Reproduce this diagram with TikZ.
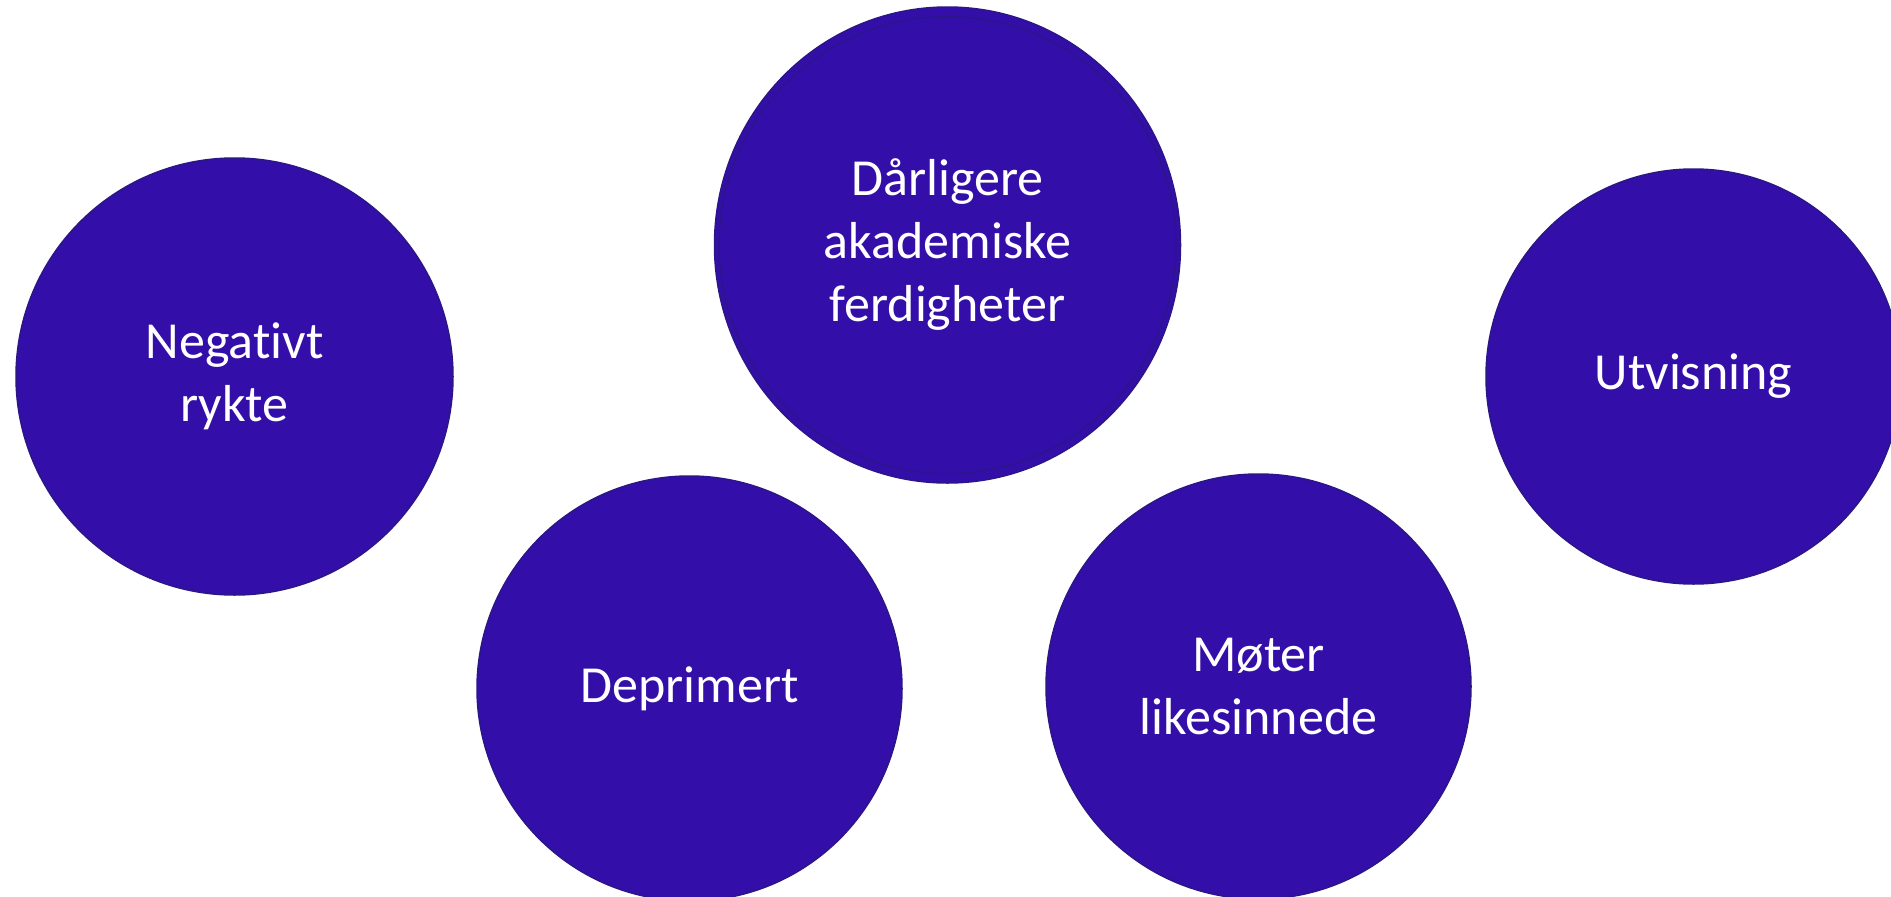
\documentclass[tikz,border=0pt]{standalone}
\usepackage{fontspec}
\setmainfont{Carlito}[Ligatures=NoCommon]
\usetikzlibrary{shapes.geometric}
\definecolor{bubblefill}{RGB}{52,14,168}
\definecolor{bubbleline}{RGB}{42,22,135}

\begin{document}
\begin{tikzpicture}[x=1pt, y=-1pt]

\tikzset{bubble/.style = {shape=circle, draw=bubbleline, fill=bubblefill, line width=1.5pt,
  inner sep=0pt, text=white, align=center, font=\fontsize{52}{63}\selectfont}}
\tikzset{ring/.style = {draw=bubbleline, line width=1.2pt}}
\useasboundingbox (0,0) rectangle (1891,897);
\clip (0,0) rectangle (1891,897);
% bubbles
\node[bubble, minimum size=437pt] (rykte) at (234.5,376.5) {Negativt\\rykte};
\node[bubble, shape=ellipse, minimum width=466pt, minimum height=476pt] (evner) at (947.5,245) {Dårligere\\akademiske\\ferdigheter};
\node[bubble, minimum size=415pt] (utvis) at (1693.5,376.5) {Utvisning};
\node[bubble, minimum size=425pt] (depr) at (689.5,688.5) {Deprimert};
\node[bubble, minimum size=425pt] (moter) at (1258.5,686.5) {Møter\\likesinnede};
% inner ring
\draw[ring] (evner.center) circle (228.5);

\end{tikzpicture}
\end{document}
